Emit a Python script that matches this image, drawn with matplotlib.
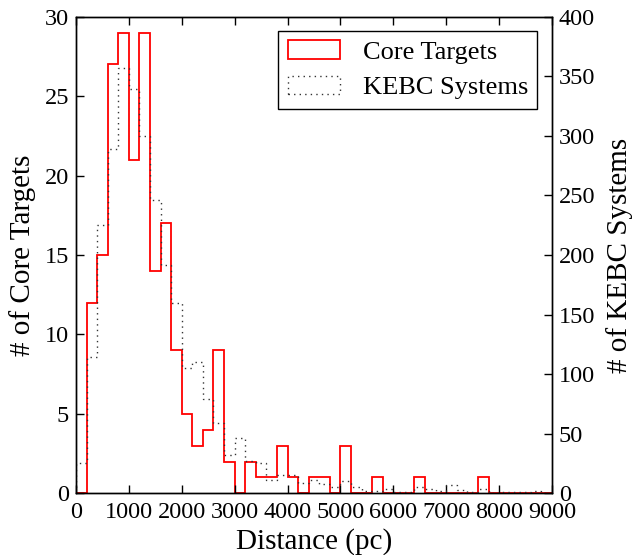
import numpy as np
import matplotlib
matplotlib.use("Agg")
import matplotlib.pyplot as plt
from matplotlib.patches import Patch

# bin edges of both histograms (pc)
edges = np.arange(0, 9001, 200)

# number of Core targets per 200 pc bin
core_counts = [0, 12, 15, 27, 29, 21, 29, 14, 17, 9,
               5, 3, 4, 9, 2, 0, 2, 1, 1, 3,
               1, 0, 1, 1, 0, 3, 0, 0, 1, 0,
               0, 0, 1, 0, 0, 0, 0, 0, 1, 0,
               0, 0, 0, 0, 0]

# number of KEBC systems per 200 pc bin
kebc_counts = [25, 114, 225, 289, 357, 339, 300, 246, 192, 160,
               105, 110, 79, 59, 32, 46, 27, 25, 11, 15,
               15, 9, 11, 8, 5, 10, 5, 2, 2, 4,
               1, 1, 5, 4, 2, 7, 3, 1, 4, 0,
               1, 1, 1, 2, 0]

plt.rcParams["font.family"] = ["Liberation Serif", "DejaVu Serif"]

fig = plt.figure(figsize=(6.39, 5.55), dpi=100)
ax = fig.add_axes([0.1189, 0.1112, 0.7449, 0.8587])
ax2 = ax.twinx()

DOT = (0, (1, 3))
ax.stairs(core_counts, edges, color="red", linewidth=1.3)
ax2.stairs(kebc_counts, edges, color="#333333", linewidth=1.0, linestyle=DOT)

ax.set_xlim(0, 9000)
ax.set_ylim(0, 30)
ax2.set_ylim(0, 400)
ax.set_xticks(np.arange(0, 9001, 1000))
ax.set_yticks(np.arange(0, 31, 5))
ax2.set_yticks(np.arange(0, 401, 50))

ax.set_xlabel("Distance (pc)", fontsize=21, labelpad=4)
ax.set_ylabel("# of Core Targets", fontsize=21, labelpad=6)
ax2.set_ylabel("# of KEBC Systems", fontsize=21, labelpad=8)

ax.tick_params(axis="x", which="both", direction="in", top=True, bottom=True,
               length=5.5, width=1, labelsize=17.5, pad=6)
ax.tick_params(axis="y", direction="in", left=True, right=False,
               length=5.5, width=1, labelsize=17.5, pad=5)
ax2.tick_params(axis="y", direction="in", right=True, left=False,
                length=5.5, width=1, labelsize=17.5, pad=5)

for a in (ax, ax2):
    for s in a.spines.values():
        s.set_linewidth(1.0)

# legend with open rectangles, like step histograms
handles = [Patch(fill=False, edgecolor="red", linewidth=1.3),
           Patch(fill=False, edgecolor="#333333", linewidth=1.0, linestyle=DOT)]
leg = ax2.legend(handles, ["Core Targets", "KEBC Systems"], loc="upper right",
                 fontsize=19, fancybox=False, framealpha=1, edgecolor="black",
                 handlelength=2.0, handletextpad=0.85, borderpad=0.35,
                 labelspacing=0.45, borderaxespad=0.55)
leg.get_frame().set_linewidth(1.0)

fig.savefig("out.png", dpi=100, facecolor="white")
